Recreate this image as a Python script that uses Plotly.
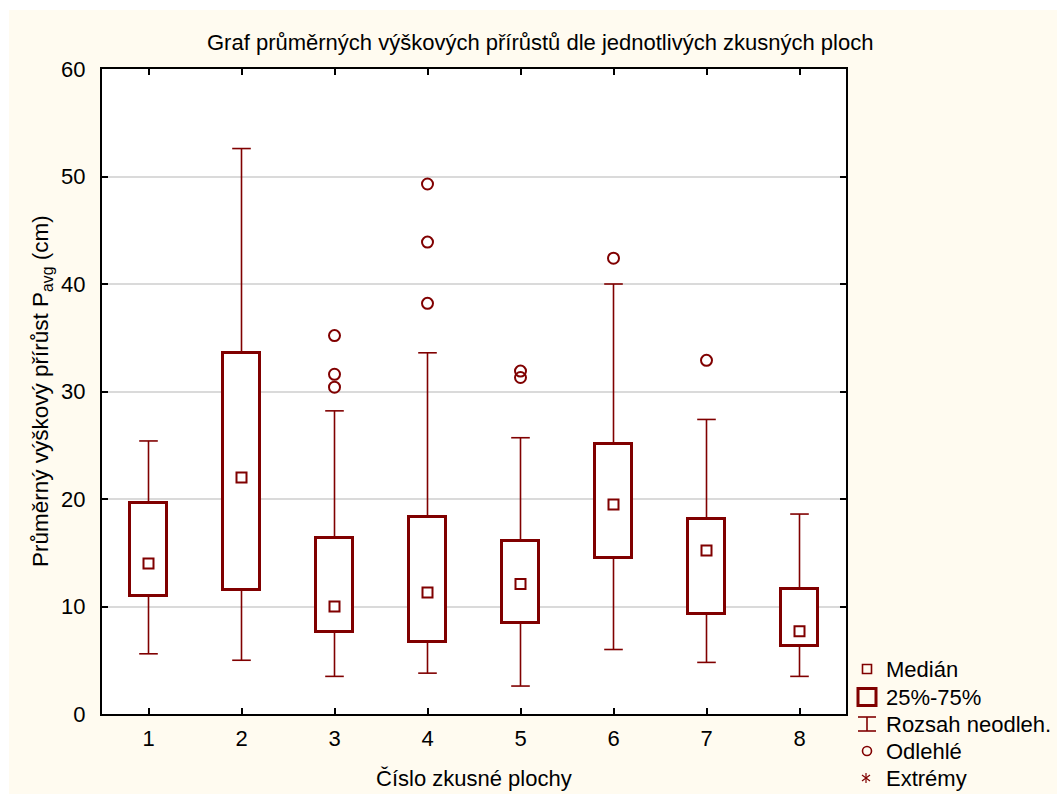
import plotly.graph_objects as go

# Box-plot summaries of mean height increment per sample plot
plots = [1, 2, 3, 4, 5, 6, 7, 8]
q1 = [11.0, 11.5, 7.6, 6.7, 8.5, 14.5, 9.3, 6.3]
median = [14.0, 22.0, 10.0, 11.3, 12.1, 19.5, 15.2, 7.7]
q3 = [19.6, 33.6, 16.4, 18.3, 16.1, 25.1, 18.1, 11.6]
whisker_low = [5.6, 5.0, 3.5, 3.8, 2.6, 6.0, 4.8, 3.5]
whisker_high = [25.4, 52.6, 28.2, 33.6, 25.7, 40.0, 27.4, 18.6]

# Outliers (plot number, value)
outlier_plot = [3, 3, 3, 4, 4, 4, 5, 5, 6, 7]
outlier_value = [35.2, 31.6, 30.4, 49.3, 43.9, 38.2, 31.9, 31.3, 42.4, 32.9]

y_ticks = [0, 10, 20, 30, 40, 50, 60]

RED = "#800000"
CREAM = "#FFFBF0"
FONT = "Arial, 'Liberation Sans', sans-serif"

W, H = 1057, 794
L, R, T, B = 102, 211, 69, 80
PW, PH = W - L - R, H - T - B

BOX_HALF = 0.195
CAP_HALF = 0.1


def px_x(px):
    return (px - L) / PW


def px_y(py):
    return (H - B - py) / PH


fig = go.Figure()

# Interquartile boxes
fig.add_trace(go.Bar(
    x=plots,
    base=q1,
    y=[b - a for a, b in zip(q1, q3)],
    width=2 * BOX_HALF,
    marker=dict(color="white", line=dict(color=RED, width=3)),
    showlegend=False,
    hoverinfo="skip",
))

# Whiskers with end caps
wx, wy = [], []
for x, lo, a, b, hi in zip(plots, whisker_low, q1, q3, whisker_high):
    wx += [x, x, None, x - CAP_HALF, x + CAP_HALF, None]
    wy += [b, hi, None, hi, hi, None]
    wx += [x, x, None, x - CAP_HALF, x + CAP_HALF, None]
    wy += [a, lo, None, lo, lo, None]
fig.add_trace(go.Scatter(
    x=wx, y=wy, mode="lines",
    line=dict(color=RED, width=1.6),
    showlegend=False, hoverinfo="skip",
))

# Medians
fig.add_trace(go.Scatter(
    x=plots, y=median, mode="markers",
    marker=dict(symbol="square-open", size=10, color=RED, line=dict(width=2, color=RED)),
    showlegend=False,
))

# Outliers
fig.add_trace(go.Scatter(
    x=outlier_plot, y=outlier_value, mode="markers",
    marker=dict(symbol="circle-open", size=11, color=RED, line=dict(width=2, color=RED)),
    showlegend=False,
))

shapes = []
# white frame strips along the top and left edges
shapes.append(dict(type="rect", xref="paper", yref="paper",
                   x0=px_x(0), x1=px_x(9), y0=px_y(0), y1=px_y(H),
                   fillcolor="white", line=dict(width=0)))
shapes.append(dict(type="rect", xref="paper", yref="paper",
                   x0=px_x(0), x1=px_x(W), y0=px_y(0), y1=px_y(10),
                   fillcolor="white", line=dict(width=0)))

# Legend key drawn with shapes
sx = 867
rows = [669, 697, 724, 751, 778]
shapes.append(dict(type="rect", xref="paper", yref="paper",
                   x0=px_x(sx - 4.5), x1=px_x(sx + 4.5), y0=px_y(rows[0] + 4.5), y1=px_y(rows[0] - 4.5),
                   line=dict(color=RED, width=1.6), fillcolor="rgba(0,0,0,0)"))
shapes.append(dict(type="rect", xref="paper", yref="paper",
                   x0=px_x(sx - 9), x1=px_x(sx + 9), y0=px_y(rows[1] + 8.5), y1=px_y(rows[1] - 8.5),
                   line=dict(color=RED, width=3), fillcolor="rgba(0,0,0,0)"))
for (x0, y0, x1, y1) in [(sx, rows[2] - 7, sx, rows[2] + 7),
                         (sx - 9, rows[2] - 7, sx + 9, rows[2] - 7),
                         (sx - 9, rows[2] + 7, sx + 9, rows[2] + 7)]:
    shapes.append(dict(type="line", xref="paper", yref="paper",
                       x0=px_x(x0), x1=px_x(x1), y0=px_y(y0), y1=px_y(y1),
                       line=dict(color=RED, width=1.6)))
shapes.append(dict(type="circle", xref="paper", yref="paper",
                   x0=px_x(sx - 4.5), x1=px_x(sx + 4.5), y0=px_y(rows[3] + 4.5), y1=px_y(rows[3] - 4.5),
                   line=dict(color=RED, width=1.6), fillcolor="rgba(0,0,0,0)"))
ay = rows[4]
for (x0, y0, x1, y1) in [(sx - 1, ay - 5, sx - 1, ay + 5),
                         (sx - 5, ay - 3, sx + 3, ay + 3),
                         (sx - 5, ay + 3, sx + 3, ay - 3)]:
    shapes.append(dict(type="line", xref="paper", yref="paper",
                       x0=px_x(x0), x1=px_x(x1), y0=px_y(y0), y1=px_y(y1),
                       line=dict(color=RED, width=1.2)))

legend_labels = ["Medián", "25%-75%", "Rozsah neodleh.", "Odlehlé", "Extrémy"]
annotations = []
for lbl, ry in zip(legend_labels, rows):
    annotations.append(dict(text=lbl, xref="paper", yref="paper", x=px_x(884), y=px_y(ry),
                            xanchor="left", yanchor="middle", showarrow=False,
                            font=dict(size=22, color="black", family=FONT)))

# Titles
annotations.append(dict(text="Graf průměrných výškových přírůstů dle jednotlivých zkusných ploch",
                        xref="paper", yref="paper", x=px_x(540), y=px_y(42),
                        xanchor="center", yanchor="middle", showarrow=False,
                        font=dict(size=22, color="black", family=FONT)))
annotations.append(dict(text="Číslo zkusné plochy",
                        xref="paper", yref="paper", x=px_x(474), y=px_y(778),
                        xanchor="center", yanchor="middle", showarrow=False,
                        font=dict(size=22, color="black", family=FONT)))
annotations.append(dict(text="Průměrný výškový přírůst P<sub>avg</sub> (cm)",
                        xref="paper", yref="paper", x=px_x(42), y=px_y(391),
                        xanchor="center", yanchor="middle", textangle=-90, showarrow=False,
                        font=dict(size=22.5, color="black", family=FONT)))

fig.update_layout(
    width=W, height=H,
    margin=dict(l=L, r=R, t=T, b=B, pad=0),
    paper_bgcolor=CREAM,
    plot_bgcolor="white",
    font=dict(family=FONT, size=22, color="black"),
    shapes=shapes,
    annotations=annotations,
    showlegend=False,
    bargap=0,
)

fig.update_xaxes(
    range=[0.5, 8.5],
    tickmode="array", tickvals=plots, ticktext=[str(p) for p in plots],
    ticks="inside", ticklen=6, tickwidth=2, tickcolor="black",
    showline=True, linecolor="black", linewidth=2, mirror="ticks",
    showgrid=False, zeroline=False,
    ticklabelstandoff=4,
    tickfont=dict(size=22),
)
fig.update_yaxes(
    range=[0, 60],
    tickmode="array", tickvals=y_ticks,
    ticks="inside", ticklen=6, tickwidth=2, tickcolor="black",
    showline=True, linecolor="black", linewidth=2, mirror="ticks",
    showgrid=True, gridcolor="#DADADA", gridwidth=2, zeroline=False,
    ticklabelstandoff=10,
    tickfont=dict(size=22),
)

fig.write_html("out.html")
